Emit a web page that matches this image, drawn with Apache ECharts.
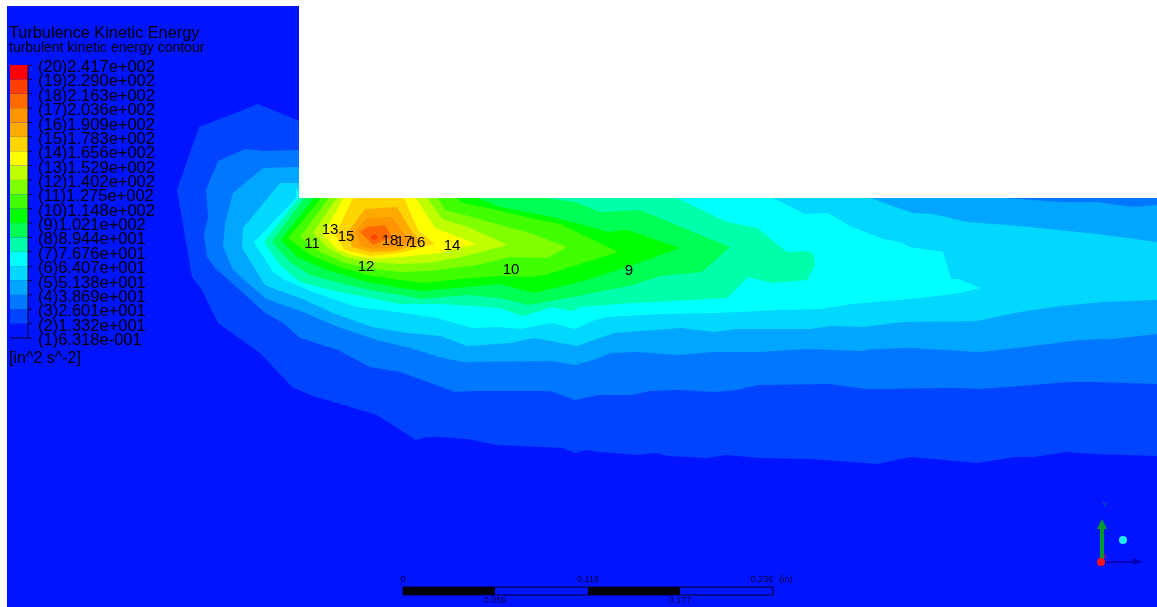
<!DOCTYPE html>
<html>
<head>
<meta charset="utf-8">
<style>html,body{margin:0;padding:0;background:#fff}#c{width:1157px;height:607px}</style>
<script src="https://cdn.jsdelivr.net/npm/echarts@6/dist/echarts.min.js"></script>
</head>
<body>
<div id="c"></div>
<script>
// Contour level outlines, in plot domain units (x: 0..1157, y: 0..607 downward)
const domainOutline = [[7,6],[1157,6],[1157,607],[7,607]];
const wallBlock = [[299,0],[1157,0],[1157,198],[299,198]];
const L2 = [[299,121],[258,104],[207,124],[199,127],[198,130],[177,190],[192,277],[202,290],[218,323],[260,353],[292,387],[310,395],[377,415],[416,440],[427,437],[440,437],[467,439],[497,445],[563,448],[575,453],[586,450],[600,452],[637,455],[655,453],[669,456],[707,458],[726,455],[760,458],[810,459],[877,464],[911,457],[977,463],[1016,457],[1034,457],[1066,452],[1094,454],[1157,456],[1157,190],[299,190]];
const L3 = [[299,150],[263,151],[245,149],[218,161],[206,190],[208,217],[204,235],[207,257],[215,268],[242,292],[265,313],[283,323],[300,338],[338,350],[370,367],[400,372],[455,392],[470,391],[550,391],[575,400],[598,395],[632,395],[650,391],[680,390],[714,392],[737,390],[758,385],[829,384],[865,389],[957,388],[980,389],[1071,382],[1094,382],[1157,384],[1157,190],[299,190]];
const L4 = [[299,167],[263,168],[233,193],[225,223],[223,247],[233,270],[265,298],[277,303],[303,312],[338,327],[377,340],[410,348],[443,358],[463,362],[552,361],[575,365],[593,360],[611,353],[637,352],[678,355],[714,352],[760,352],[806,349],[861,351],[874,349],[911,348],[980,352],[1025,347],[1080,340],[1112,339],[1157,334],[1157,205],[1133,207],[1097,202],[1060,202],[1005,198],[1005,190],[299,190]];
const L5 = [[299,183],[280,183],[243,228],[242,248],[265,285],[277,290],[305,300],[333,313],[372,327],[407,333],[440,336],[467,346],[511,343],[534,338],[577,346],[614,333],[682,328],[714,332],[737,329],[810,329],[831,326],[863,327],[903,322],[977,321],[1020,312],[1060,306],[1103,302],[1157,300],[1157,242],[1097,234],[1020,226],[967,222],[933,214],[913,213],[870,198],[870,190],[299,190]];
const L6 = [[296,198],[254,242],[273,272],[285,280],[313,292],[357,307],[397,312],[437,318],[472,328],[499,327],[520,329],[552,323],[575,329],[595,320],[607,317],[660,314],[717,313],[780,310],[820,309],[852,304],[920,298],[960,293],[980,288],[958,279],[951,279],[943,252],[910,247],[900,242],[883,239],[852,227],[828,213],[805,214],[773,198],[773,190],[296,190]];
const L7 = [[264,242],[280,265],[300,282],[330,290],[370,298],[400,304],[440,304],[500,308],[523,316],[552,307],[572,311],[580,307],[633,303],[727,298],[748,277],[773,283],[807,280],[815,265],[813,253],[805,251],[787,252],[757,228],[727,222],[677,198],[677,190],[305,190]];
const L8 = [[272,242],[290,262],[310,275],[340,283],[370,290],[400,295],[422,299],[467,295],[500,298],[528,305],[573,297],[633,285],[660,276],[702,272],[730,247],[640,210],[600,212],[575,202],[545,198],[545,190],[310,190]];
const L9 = [[281,240],[297,257],[327,270],[367,282],[400,288],[423,291],[467,287],[500,284],[533,293],[580,282],[633,265],[680,248],[628,230],[608,232],[572,222],[543,215],[500,207],[480,199],[480,190],[320,190]];
const L10 = [[288,238],[310,255],[340,267],[367,275],[400,280],[423,283],[460,279],[500,276],[530,277],[545,275],[618,252],[560,224],[530,218],[488,208],[462,203],[457,198],[457,190],[328,190]];
const L11 = [[300,237],[320,252],[345,263],[367,268],[400,272],[430,271],[477,265],[510,257],[547,258],[567,247],[527,232],[500,225],[472,217],[445,210],[438,198],[438,190],[335,190]];
const L12 = [[313,233],[328,248],[345,257],[367,262],[400,264],[428,263],[457,258],[508,245],[468,227],[442,219],[427,198],[427,190],[342,190]];
const L13 = [[323,235],[338,250],[352,255],[370,259],[400,257],[440,253],[476,244],[435,228],[416,198],[416,190],[348,190]];
const L14 = [[335,235],[345,250],[370,256],[400,253],[435,244],[418,230],[404,198],[404,190],[357,190]];
const L15 = [[348,232],[352,247],[370,252],[395,251],[422,243],[412,232],[397,207],[365,209]];
const L16 = [[355,232],[361,246],[372,249],[400,246],[413,241],[405,235],[392,217],[367,218]];
const L17 = [[360,232],[367,227],[385,225],[392,237],[373,245]];
const L18 = [[370,237],[375,234],[378,238],[373,240]];
const contourLevels = [L2,L3,L4,L5,L6,L7,L8,L9,L10,L11,L12,L13,L14,L15,L16,L17,L18];

// Band colours, lowest to highest (19 bands)
const bandColors = ['#0014ff','#0044ff','#0077ff','#00a6ff','#00d8ff','#00ffff','#00ffaa','#00ff55','#00ff00','#40ff00','#80ff00','#bfff00','#ffff00','#ffd500','#ffaa00','#ff9500','#ff6a00','#ff4000','#ff0000'];

// Legend
const legendValues = ['(20)2.417e+002','(19)2.290e+002','(18)2.163e+002','(17)2.036e+002','(16)1.909e+002','(15)1.783e+002','(14)1.656e+002','(13)1.529e+002','(12)1.402e+002','(11)1.275e+002','(10)1.148e+002','(9)1.021e+002','(8)8.944e+001','(7)7.676e+001','(6)6.407e+001','(5)5.138e+001','(4)3.869e+001','(3)2.601e+001','(2)1.332e+001','(1)6.318e-001'];
const legendTitle = 'Turbulence Kinetic Energy';
const legendSub = 'turbulent kinetic energy contour';
const legendUnit = '[in^2 s^-2]';

// Contour labels [text, x, y]
const contourLabels = [['11',312,244],['13',330,230],['15',346,237],['18',390,241],['17',404,242],['16',417,243],['14',452,246],['12',366,267],['10',511,270],['9',629,271]];

// Scale bar
const scaleSegments = [[403,495,'#000'],[495,588,'#0014ff'],[588,680,'#000'],[680,773,'#0014ff']];
const scaleLabels = [['0',403,580],['0.118',588,580],['0.236',762,580],['(in)',786,580],['0.059',495,601],['0.177',680,601]];

const W = 1157, H = 607;
let zc = 1;
function layer(draw){
  return {type:'custom',coordinateSystem:'cartesian2d',silent:true,z:zc++,clip:false,animation:false,
    data:[[0,0]],encode:{x:0,y:1},renderItem:(p,api)=>draw(api)};
}
function poly(api,pts,fill){
  return {type:'polygon',shape:{points:pts.map(q=>api.coord(q))},style:{fill:fill}};
}
function txt(api,t,x,y,font,fill,align){
  const c=api.coord([x,y]);
  return {type:'text',x:c[0],y:c[1],style:{text:t,font:font,fill:fill||'#000',textAlign:align||'left',textVerticalAlign:'middle'}};
}
const series=[];
series.push(layer(api=>poly(api,domainOutline,bandColors[0])));
contourLevels.forEach((pts,i)=>series.push(layer(api=>poly(api,pts,bandColors[i+1]))));
series.push(layer(api=>poly(api,wallBlock,'#ffffff')));

// Colour bar
const barX0=10,barX1=28,barTop=65,barBottom=338;
series.push(layer(api=>{
  const step=(barBottom-barTop)/19, ch=[];
  bandColors.forEach((col,i)=>{
    const y1=barBottom-i*step,y0=y1-step;
    ch.push(poly(api,[[barX0,y0],[barX1,y0],[barX1,y1],[barX0,y1]],col));
  });
  legendValues.forEach((_,i)=>{
    const y=barTop+i*step,a=api.coord([barX1,y]),b=api.coord([32,y]);
    ch.push({type:'line',shape:{x1:a[0],y1:a[1],x2:b[0],y2:b[1]},style:{stroke:'#000030',lineWidth:1}});
  });
  const b0=api.coord([barX0,barBottom]),b1=api.coord([barX1,barBottom]),t1=api.coord([barX1,barTop]);
  ch.push({type:'polyline',shape:{points:[b0,b1,t1]},style:{fill:'none',stroke:'#000030',lineWidth:1}});
  return {type:'group',children:ch};
}));

// Legend & labels text
series.push(layer(api=>{
  const ch=[];
  const step=(barBottom-barTop)/19, F='"Liberation Sans",Arial,sans-serif';
  ch.push(txt(api,legendTitle,9,33.5,'16.3px '+F));
  ch.push(txt(api,legendSub,9,48.5,'14px '+F));
  legendValues.forEach((t,i)=>ch.push(txt(api,t,38,barTop+2.5+i*step,'16.5px '+F)));
  ch.push(txt(api,legendUnit,9,359,'16px '+F));
  contourLabels.forEach(l=>ch.push(txt(api,l[0],l[1],l[2],'15px '+F,'#000','center')));
  return {type:'group',children:ch};
}));

// Scale bar
series.push(layer(api=>{
  const ch=[],F='"Liberation Sans",Arial,sans-serif';
  scaleSegments.forEach(s=>{
    ch.push(poly(api,[[s[0],587],[s[1],587],[s[1],595],[s[0],595]],s[2]));
  });
  const a=api.coord([403,587]),b=api.coord([773,595]);
  ch.push({type:'rect',shape:{x:a[0],y:a[1],width:b[0]-a[0],height:b[1]-a[1]},style:{fill:'none',stroke:'#000030',lineWidth:1}});
  scaleLabels.forEach(l=>ch.push(txt(api,l[0],l[1],l[2],'9px '+F,'#000040','center')));
  return {type:'group',children:ch};
}));

// Axis triad
const triadY=[[1100,560],[1100,529],[1097,529],[1102,519],[1107,529],[1104,529],[1104,560]];
const triadX=[[1102,561],[1133,561],[1133,558],[1143,561.5],[1133,565],[1133,563],[1102,563]];
series.push(layer(api=>{
  const ch=[poly(api,triadX,'#0000b8'),poly(api,triadY,'#009a30')];
  const F='"Liberation Sans",Arial,sans-serif';
  const r=api.coord([1101,562]),s=api.coord([1123,540]);
  ch.push({type:'circle',shape:{cx:r[0],cy:r[1],r:4},style:{fill:'#ff1010'}});
  ch.push({type:'circle',shape:{cx:s[0],cy:s[1],r:4},style:{fill:'#20e8f0'}});
  ch.push(txt(api,'Y',1105,505,'8px '+F,'#006a80','center'));
  ch.push(txt(api,'X',1105,557,'7px '+F,'#c02040','center'));
  return {type:'group',children:ch};
}));

const chart=echarts.init(document.getElementById('c'),null,{renderer:'canvas'});
chart.setOption({
  animation:false,
  backgroundColor:'#fff',
  grid:{left:0,right:0,top:0,bottom:0},
  xAxis:{type:'value',min:0,max:W,show:false},
  yAxis:{type:'value',min:0,max:H,inverse:true,show:false},
  tooltip:{show:false},
  series:series
});
</script>
</body>
</html>
